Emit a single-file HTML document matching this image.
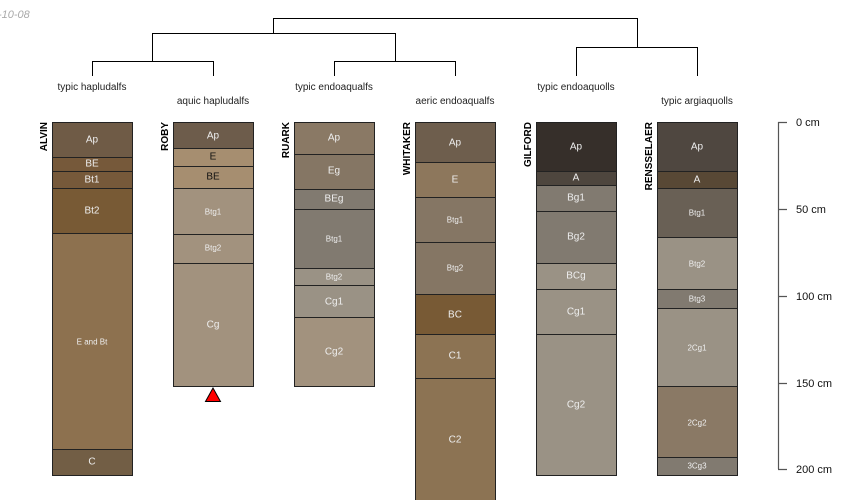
<!DOCTYPE html>
<html><head><meta charset="utf-8"><style>body{margin:0;background:#fff}svg{display:block}</style></head><body>
<svg width="850" height="500" xmlns="http://www.w3.org/2000/svg" font-family="Liberation Sans, sans-serif">
<text x="-2" y="18" font-size="11" font-style="italic" fill="#aaa">-10-08</text>
<g stroke="#000" stroke-width="1" fill="none">
<path d="M273.5 33V18.5H637.5V47"/>
<path d="M152.5 61V33.5H395.5V61"/>
<path d="M92.5 76V61.5H213.5V76"/>
<path d="M334.5 76V61.5H455.5V76"/>
<path d="M576.5 76V47.5H697.5V76"/>
</g>
<g font-size="10" fill="#222" text-anchor="middle">
<text x="92" y="90">typic hapludalfs</text>
<text x="213" y="104">aquic hapludalfs</text>
<text x="334" y="90">typic endoaqualfs</text>
<text x="455" y="104">aeric endoaqualfs</text>
<text x="576" y="90">typic endoaquolls</text>
<text x="697" y="104">typic argiaquolls</text>
</g>
<g font-size="10" font-weight="bold" fill="#000" text-anchor="end">
<text transform="translate(47,122) rotate(-90)">ALVIN</text>
<text transform="translate(168,122) rotate(-90)">ROBY</text>
<text transform="translate(289,122) rotate(-90)">RUARK</text>
<text transform="translate(410,122) rotate(-90)">WHITAKER</text>
<text transform="translate(531,122) rotate(-90)">GILFORD</text>
<text transform="translate(652,122) rotate(-90)">RENSSELAER</text>
</g>
<g stroke="#222" stroke-width="1" text-anchor="middle" fill="#eee">
<!-- ALVIN -->
<rect x="52.5" y="122.5" width="80" height="35" fill="#6f5b46"/>
<rect x="52.5" y="157.5" width="80" height="14" fill="#76593a"/>
<rect x="52.5" y="171.5" width="80" height="17" fill="#76593a"/>
<rect x="52.5" y="188.5" width="80" height="45" fill="#785a35"/>
<rect x="52.5" y="233.5" width="80" height="216" fill="#8d714f"/>
<rect x="52.5" y="449.5" width="80" height="26" fill="#725e45"/>
<!-- ROBY -->
<rect x="173.5" y="122.5" width="80" height="26" fill="#6d5c4b"/>
<rect x="173.5" y="148.5" width="80" height="18" fill="#a68e70"/>
<rect x="173.5" y="166.5" width="80" height="22" fill="#a68e70"/>
<rect x="173.5" y="188.5" width="80" height="46" fill="#a2927e"/>
<rect x="173.5" y="234.5" width="80" height="29" fill="#a2927e"/>
<rect x="173.5" y="263.5" width="80" height="123" fill="#a2927e"/>
<polygon points="213,388 205.5,401.5 220.5,401.5" fill="#f00" stroke="#000"/>
<!-- RUARK -->
<rect x="294.5" y="122.5" width="80" height="32" fill="#8a7965"/>
<rect x="294.5" y="154.5" width="80" height="35" fill="#857664"/>
<rect x="294.5" y="189.5" width="80" height="20" fill="#817a70"/>
<rect x="294.5" y="209.5" width="80" height="59" fill="#817a70"/>
<rect x="294.5" y="268.5" width="80" height="17" fill="#9a9285"/>
<rect x="294.5" y="285.5" width="80" height="32" fill="#9a9285"/>
<rect x="294.5" y="317.5" width="80" height="69" fill="#a2927e"/>
<!-- WHITAKER -->
<rect x="415.5" y="122.5" width="80" height="40" fill="#6e5e4d"/>
<rect x="415.5" y="162.5" width="80" height="35" fill="#8d775c"/>
<rect x="415.5" y="197.5" width="80" height="45" fill="#857664"/>
<rect x="415.5" y="242.5" width="80" height="52" fill="#857664"/>
<rect x="415.5" y="294.5" width="80" height="40" fill="#785a35"/>
<rect x="415.5" y="334.5" width="80" height="44" fill="#8c7353"/>
<rect x="415.5" y="378.5" width="80" height="130" fill="#8c7353"/>
<!-- GILFORD -->
<rect x="536.5" y="122.5" width="80" height="49" fill="#362f2a"/>
<rect x="536.5" y="171.5" width="80" height="14" fill="#4e463e"/>
<rect x="536.5" y="185.5" width="80" height="26" fill="#817a70"/>
<rect x="536.5" y="211.5" width="80" height="52" fill="#817a70"/>
<rect x="536.5" y="263.5" width="80" height="26" fill="#9a9285"/>
<rect x="536.5" y="289.5" width="80" height="45" fill="#9a9285"/>
<rect x="536.5" y="334.5" width="80" height="141" fill="#9a9285"/>
<!-- RENSSELAER -->
<rect x="657.5" y="122.5" width="80" height="49" fill="#4f4740"/>
<rect x="657.5" y="171.5" width="80" height="17" fill="#584835"/>
<rect x="657.5" y="188.5" width="80" height="49" fill="#696055"/>
<rect x="657.5" y="237.5" width="80" height="52" fill="#9a9285"/>
<rect x="657.5" y="289.5" width="80" height="19" fill="#817a70"/>
<rect x="657.5" y="308.5" width="80" height="78" fill="#9a9285"/>
<rect x="657.5" y="386.5" width="80" height="71" fill="#8a7965"/>
<rect x="657.5" y="457.5" width="80" height="18" fill="#817a70"/>
</g>
<g text-anchor="middle" fill="#eee" font-size="10" dominant-baseline="central">
<text x="92" y="140">Ap</text><text x="92" y="164">BE</text><text x="92" y="180">Bt1</text><text x="92" y="211">Bt2</text><text x="92" y="342" font-size="8">E and Bt</text><text x="92" y="462">C</text>
<text x="213" y="136">Ap</text><text x="213" y="157" fill="#111">E</text><text x="213" y="177" fill="#111">BE</text><text x="213" y="212" font-size="8">Btg1</text><text x="213" y="248" font-size="8">Btg2</text><text x="213" y="325">Cg</text>
<text x="334" y="138">Ap</text><text x="334" y="171">Eg</text><text x="334" y="199">BEg</text><text x="334" y="239" font-size="8">Btg1</text><text x="334" y="277" font-size="8">Btg2</text><text x="334" y="302">Cg1</text><text x="334" y="352">Cg2</text>
<text x="455" y="143">Ap</text><text x="455" y="180">E</text><text x="455" y="220" font-size="8">Btg1</text><text x="455" y="268" font-size="8">Btg2</text><text x="455" y="315">BC</text><text x="455" y="356">C1</text><text x="455" y="440">C2</text>
<text x="576" y="147">Ap</text><text x="576" y="178">A</text><text x="576" y="198">Bg1</text><text x="576" y="237">Bg2</text><text x="576" y="276">BCg</text><text x="576" y="312">Cg1</text><text x="576" y="405">Cg2</text>
<text x="697" y="147">Ap</text><text x="697" y="180">A</text><text x="697" y="213" font-size="8">Btg1</text><text x="697" y="264" font-size="8">Btg2</text><text x="697" y="299" font-size="8">Btg3</text><text x="697" y="348" font-size="8">2Cg1</text><text x="697" y="423" font-size="8">2Cg2</text><text x="697" y="466" font-size="8">3Cg3</text>
</g>
<g stroke="#555" stroke-width="1.2" fill="none">
<path d="M778.5 122V469"/>
<path d="M778 122.5H787M778 209.5H787M778 296.5H787M778 383.5H787M778 469.5H787"/>
</g>
<g font-size="11" fill="#111" dominant-baseline="central">
<text x="796" y="123">0 cm</text><text x="796" y="210">50 cm</text><text x="796" y="297">100 cm</text><text x="796" y="384">150 cm</text><text x="796" y="470">200 cm</text>
</g>
</svg>
</body></html>
